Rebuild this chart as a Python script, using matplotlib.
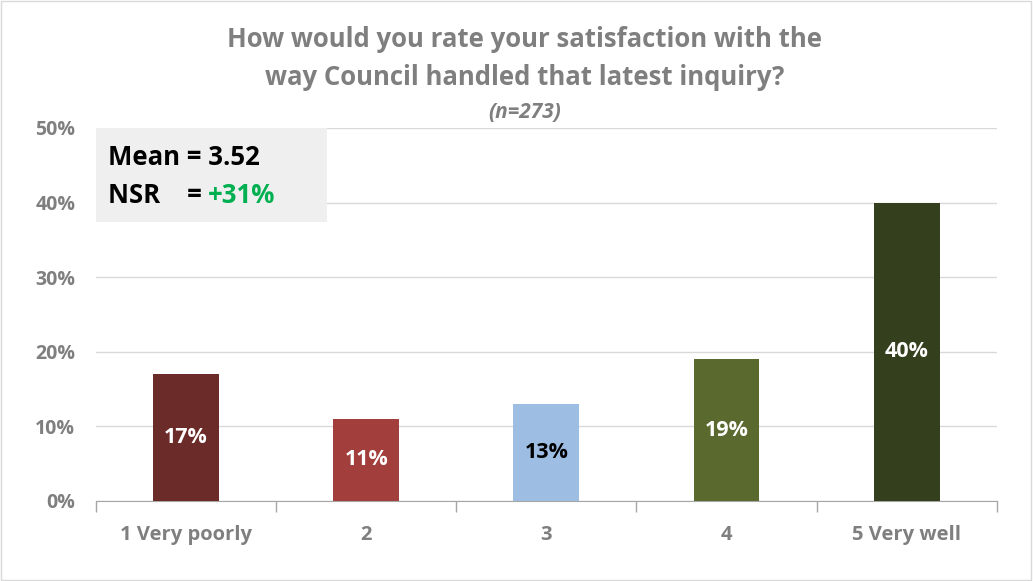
import matplotlib
matplotlib.use("Agg")
import matplotlib.pyplot as plt
from matplotlib.patches import Rectangle
from matplotlib.ticker import MultipleLocator, FuncFormatter

categories = ["1 Very poorly", "2", "3", "4", "5 Very well"]
values = [17, 11, 13, 19, 40]
bar_colors = ["#6b2b29", "#a23e3c", "#9ebde3", "#5a6a2f", "#343f1e"]
label_colors = ["white", "white", "black", "white", "white"]
title_lines = ["How would you rate your satisfaction with the",
               "way Council handled that latest inquiry?"]
subtitle = "(n=273)"
mean_text = "Mean = 3.52"
nsr_label = "NSR    = "
nsr_value = "+31%"

plt.rcParams["font.family"] = ["Open Sans", "DejaVu Sans"]
GRAY = "#7f7f7f"

fig = plt.figure(figsize=(10.33, 5.81), dpi=100)
ax = fig.add_axes([0.0929, 0.1377, 0.872, 0.642])

x = range(len(categories))
bars = ax.bar(x, values, width=0.365, color=bar_colors, zorder=3)
for b, v, c in zip(bars, values, label_colors):
    ax.text(b.get_x() + b.get_width() / 2, v / 2, f"{v:.0f}%",
            ha="center", va="center", color=c, fontsize=15.5,
            fontweight="bold", zorder=4)

ax.set_xlim(-0.5, len(categories) - 0.5)
ax.set_ylim(0, 50)
ax.yaxis.set_major_locator(MultipleLocator(10))
ax.yaxis.set_major_formatter(FuncFormatter(lambda v, p: f"{v:.0f}%"))
ax.grid(axis="y", color="#d9d9d9", linewidth=1, zorder=0)
for s in ["top", "right", "left"]:
    ax.spines[s].set_visible(False)
ax.spines["bottom"].set_color("#a6a6a6")
ax.tick_params(axis="y", length=0, pad=15, labelsize=14, labelcolor=GRAY)
for t in ax.get_yticklabels():
    t.set_fontweight("bold")

# category labels centred under bars, tick marks between categories
ax.set_xticks(list(x))
ax.set_xticklabels(categories, fontsize=14.5, fontweight="bold", color=GRAY)
ax.tick_params(axis="x", length=0, pad=17)
ax.set_xticks([i - 0.5 for i in range(len(categories) + 1)], minor=True)
ax.tick_params(axis="x", which="minor", length=8, color="#a6a6a6", width=1)

# summary box
ax.add_patch(Rectangle((-0.5, 37.4), 1.285, 12.6, facecolor="#efefef",
                       edgecolor="none", zorder=2))
ax.text(-0.435, 46.0, mean_text, fontsize=18.5, fontweight="bold",
        color="black", va="center", ha="left", zorder=4)
t1 = ax.text(-0.435, 41.0, nsr_label, fontsize=18.5, fontweight="bold",
             color="black", va="center", ha="left", zorder=4)
fig.canvas.draw()
bb = t1.get_window_extent()
xd = ax.transData.inverted().transform((bb.x1, 0))[0]
ax.text(xd, 41.0, nsr_value, fontsize=18.5, fontweight="bold",
        color="#00b050", va="center", ha="left", zorder=4)

fig.text(0.508, 0.932, title_lines[0], ha="center", va="center",
         fontsize=18.5, fontweight="bold", color=GRAY)
fig.text(0.508, 0.866, title_lines[1], ha="center", va="center",
         fontsize=18.5, fontweight="bold", color=GRAY)
fig.text(0.508, 0.806, subtitle, ha="center", va="center",
         fontsize=15, fontstyle="italic", fontweight="bold", color=GRAY)

fig.add_artist(Rectangle((0.001, 0.002), 0.997, 0.996, transform=fig.transFigure,
                         fill=False, edgecolor="#d9d9d9", linewidth=1))

fig.savefig("out.png", dpi=100)
